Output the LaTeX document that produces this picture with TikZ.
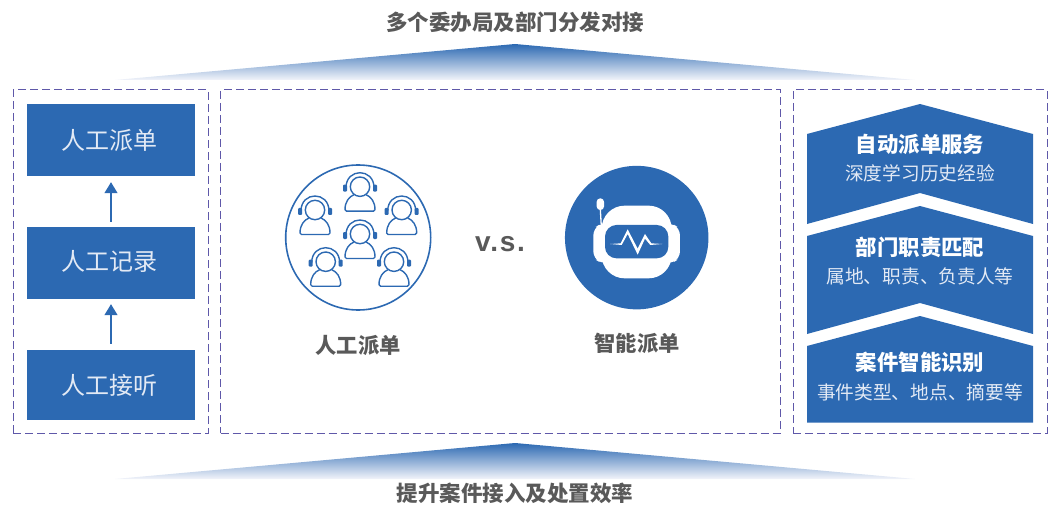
\documentclass[tikz,border=0pt]{standalone}
\usepackage{fontspec}
\setmainfont{Noto Sans CJK SC}
\newfontfamily\vsfont[LetterSpace=6]{Liberation Sans}
\usepackage{xcolor}
\usepackage{tikz}
\usetikzlibrary{arrows.meta}
\definecolor{dispatchblue}{HTML}{2C69B2}
\definecolor{panelpurple}{HTML}{5F58A9}
\definecolor{labelgray}{HTML}{595959}
\definecolor{fadeblue}{HTML}{7F92CA}
\definecolor{softwhite}{HTML}{E3EAF5}
\newcommand{\steptext}[2]{\raisebox{#1}{\hspace*{-3pt}#2}}
\tikzset{
  panel/.style={draw=panelpurple, line width=1pt, dash pattern=on 8pt off 4pt, inner sep=0pt},
  stepbox/.style={fill=dispatchblue, text=softwhite, inner sep=0pt, minimum width=168pt, font=\fontsize{24}{24}\selectfont},
  flow/.style={dispatchblue, line width=1.2pt, -{Triangle[length=11pt,width=13pt]}},
  heading/.style={text=labelgray, font=\fontsize{21.5}{22}\selectfont\bfseries, inner sep=0pt},
  layertitle/.style={text=white, font=\fontsize{21.4}{22}\selectfont\bfseries, inner sep=0pt},
  layersub/.style={text=softwhite, font=\fontsize{18.7}{20}\selectfont, inner sep=0pt},
  iconlabel/.style={text=labelgray, inner sep=0pt, font=\fontsize{21.3}{22}\selectfont\bfseries},
  agent/.pic={
    \draw[dispatchblue, line width=1.4pt] (0,0) circle (9.7);
    \draw[dispatchblue, line width=1.4pt] (-14,1) .. controls (-14,-19) and (14,-19) .. (14,1);
    \fill[dispatchblue, rounded corners=1pt] (-17,-2) rectangle (-13,5);
    \fill[dispatchblue, rounded corners=1pt] (13,-2) rectangle (17,5);
    \draw[dispatchblue, line width=1.4pt, rounded corners=1.5pt] (-6,8) .. controls (-11,10) and (-15,15) .. (-15,24.5) -- (15,24.5) .. controls (15,15) and (11,10) .. (6,8);
  }
}
\begin{document}
\begin{tikzpicture}[x=1pt, y=-1pt]
  \useasboundingbox (0,0) rectangle (1049,505);

  \node[heading] (toptitle) at (515,22) {多个委办局及部门分发对接};
  \node[heading] (bottomtitle) at (515,493) {提升案件接入及处置效率};
  \shade[top color=dispatchblue, middle color=fadeblue, bottom color=white!90!fadeblue] (115,80) -- (515,44) -- (915,80) -- cycle;
  \shade[top color=dispatchblue, middle color=fadeblue, bottom color=white!90!fadeblue] (115,479) -- (515,443) -- (915,479) -- cycle;

  \node[panel, minimum width=195pt, minimum height=343pt] (leftpanel) at (110.5,261.5) {};
  \node[panel, minimum width=560pt, minimum height=343pt] (midpanel) at (500.5,261.5) {};
  \node[panel, minimum width=254pt, minimum height=343pt] (rightpanel) at (920,261.5) {};

  \node[stepbox, minimum height=72pt] (paidan) at (111,140) {\steptext{0pt}{人工派单}};
  \node[stepbox, minimum height=72pt] (jilu) at (111,263) {\steptext{6pt}{人工记录}};
  \node[stepbox, minimum height=70pt] (jieting) at (111,385) {\steptext{2pt}{人工接听}};
  \draw[flow, shorten <=6pt, shorten >=5pt] (jieting) -- (jilu);
  \draw[flow, shorten <=5pt, shorten >=6pt] (jilu) -- (paidan);

  \node[circle, draw=dispatchblue, line width=1.6pt, minimum size=145pt, inner sep=0pt] (peoplecircle) at (358.2,237.5) {};
  \pic at (360,186.7) {agent};
  \pic at (315,210) {agent};
  \pic at (401.7,210) {agent};
  \pic at (360,234) {agent};
  \pic at (325.7,261.7) {agent};
  \pic at (394,261.7) {agent};
  \node[iconlabel] (peoplelabel) at (358,345) {人工派单};

  \node[text=labelgray, inner sep=0pt, font=\vsfont\fontsize{28}{28}\selectfont\bfseries] (versus) at (500,244) {v.s.};

  \node[circle, fill=dispatchblue, minimum size=143.5pt, inner sep=0pt] (robotcircle) at (636.7,237.6) {};
  \begin{scope}[shift={(555,170)}, x=0.3333pt, y=-0.3333pt]
    \fill[white, rounded corners=7pt] (115,175) -- (140,160) -- (350,160) -- (375,175) -- (375,265) -- (350,280) -- (140,280) -- (115,265) -- cycle;
    \fill[white, rounded corners=23pt] (140,107) rectangle (350,325);
    \fill[dispatchblue, rounded corners=11.5pt] (150,165) rectangle (340,265);
    \fill[white, rounded corners=3.5pt] (125,85) rectangle (147,120);
    \draw[white, line width=1.3pt] (136,118) -- (139,170);
    \fill[white] (165,222) -- (197,220) -- (218,178) -- (248,236) -- (270,192) -- (289,220) -- (322,222) -- (286,225) -- (270,206) -- (248,254) -- (218,192) -- (200,225) -- cycle;
  \end{scope}
  \node[iconlabel] (robotlabel) at (637,343) {智能派单};

  \fill[dispatchblue] (807,134) -- (920,104) -- (1033,134) -- (1033,224) -- (920,193) -- (807,224) -- cycle;
  \fill[dispatchblue] (807,236) -- (920,206) -- (1033,236) -- (1033,334) -- (920,303) -- (807,334) -- cycle;
  \fill[dispatchblue] (807,346) -- (920,316) -- (1033,346) -- (1033,422.5) -- (807,422.5) -- cycle;
  \node[layertitle] (autotitle) at (920,144) {自动派单服务};
  \node[layersub] (autosub) at (920,173) {深度学习历史经验};
  \node[layertitle] (depttitle) at (920,247) {部门职责匹配};
  \node[layersub] (deptsub) at (920,276) {属地、职责、负责人等};
  \node[layertitle] (casetitle) at (920,362) {案件智能识别};
  \node[layersub] (casesub) at (920,392) {事件类型、地点、摘要等};
\end{tikzpicture}
\end{document}
